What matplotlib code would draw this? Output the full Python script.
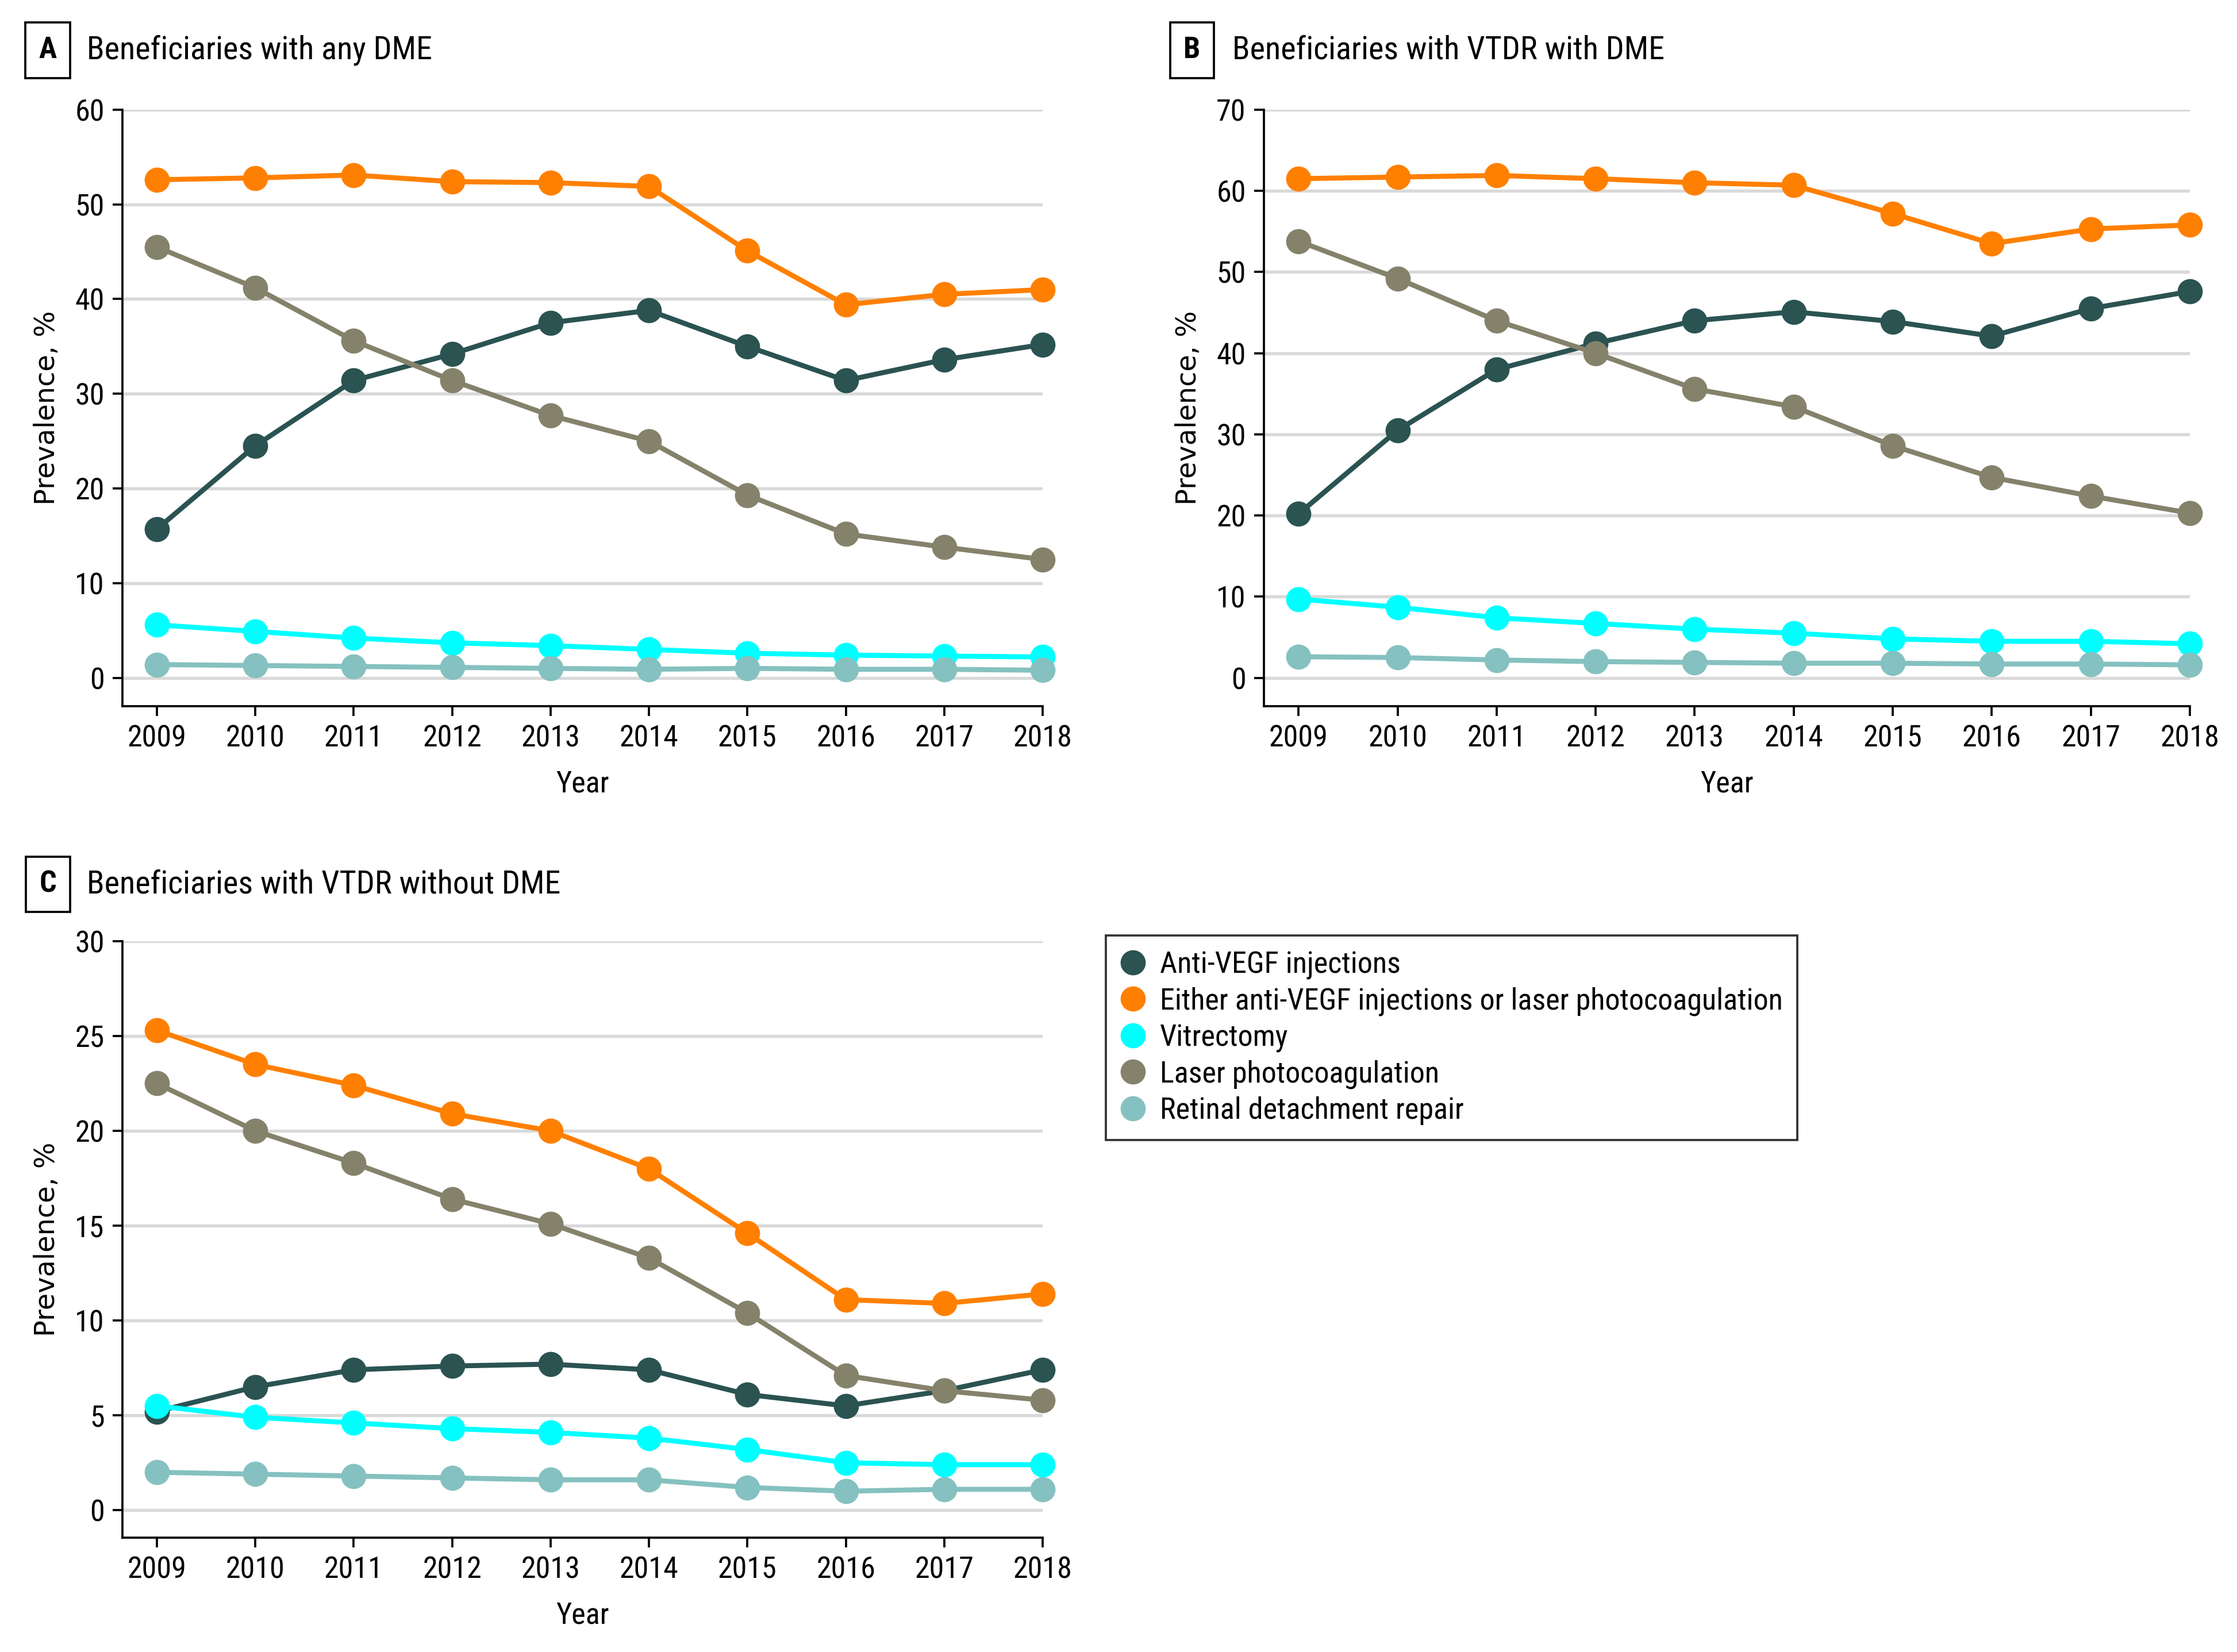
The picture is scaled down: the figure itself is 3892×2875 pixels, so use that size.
import matplotlib
matplotlib.use("Agg")
import matplotlib.pyplot as plt
from matplotlib import font_manager as fm
from matplotlib.lines import Line2D

available = {f.name for f in fm.fontManager.ttflist}
main_font = 'DejaVu Sans'
for name in ['Liberation Sans Narrow', 'Roboto Condensed', 'Open Sans Condensed',
             'Noto Sans Condensed', 'Lato', 'Roboto']:
    if name in available:
        main_font = name
        break
plt.rcParams['font.family'] = [main_font, 'DejaVu Sans']

years = [2009, 2010, 2011, 2012, 2013, 2014, 2015, 2016, 2017, 2018]

series_names = ["Anti-VEGF injections",
                "Either anti-VEGF injections or laser photocoagulation",
                "Vitrectomy",
                "Laser photocoagulation",
                "Retinal detachment repair"]
series_colors = ["#2a5352", "#ff8000", "#00ffff", "#85826b", "#85c1c0"]

# A: any DME
a_antivegf = [15.7, 24.5, 31.4, 34.2, 37.5, 38.8, 35.0, 31.4, 33.6, 35.2]
a_either = [52.6, 52.8, 53.1, 52.4, 52.3, 51.9, 45.1, 39.4, 40.5, 41.0]
a_vitrectomy = [5.6, 4.9, 4.2, 3.7, 3.4, 3.0, 2.6, 2.4, 2.3, 2.2]
a_laser = [45.5, 41.2, 35.6, 31.4, 27.7, 25.0, 19.3, 15.2, 13.8, 12.5]
a_retinal = [1.4, 1.3, 1.2, 1.1, 1.0, 0.9, 1.0, 0.9, 0.9, 0.8]

# B: VTDR with DME
b_antivegf = [20.2, 30.5, 38.0, 41.2, 44.0, 45.1, 43.9, 42.1, 45.5, 47.6]
b_either = [61.5, 61.7, 61.9, 61.5, 61.0, 60.7, 57.2, 53.5, 55.3, 55.8]
b_vitrectomy = [9.7, 8.7, 7.4, 6.7, 6.0, 5.5, 4.8, 4.5, 4.5, 4.2]
b_laser = [53.8, 49.2, 44.0, 40.0, 35.6, 33.4, 28.6, 24.7, 22.4, 20.3]
b_retinal = [2.6, 2.5, 2.2, 2.0, 1.9, 1.8, 1.8, 1.7, 1.7, 1.6]

# C: VTDR without DME
c_antivegf = [5.2, 6.5, 7.4, 7.6, 7.7, 7.4, 6.1, 5.5, 6.3, 7.4]
c_either = [25.3, 23.5, 22.4, 20.9, 20.0, 18.0, 14.6, 11.1, 10.9, 11.4]
c_vitrectomy = [5.5, 4.9, 4.6, 4.3, 4.1, 3.8, 3.2, 2.5, 2.4, 2.4]
c_laser = [22.5, 20.0, 18.3, 16.4, 15.1, 13.3, 10.4, 7.1, 6.3, 5.8]
c_retinal = [2.0, 1.9, 1.8, 1.7, 1.6, 1.6, 1.2, 1.0, 1.1, 1.1]

W, H = 3892, 2875
fig = plt.figure(figsize=(W / 300, H / 300), dpi=300)

FS = 12.5
MS = 10.5

def make_panel(rect, data, ymax, ystep, ybottom):
    ax = fig.add_axes(rect)
    for vals, col in zip(data, series_colors):
        ax.plot(years, vals, color=col, lw=2.1, marker='o', ms=MS,
                markeredgewidth=0, clip_on=False, zorder=3)
    ax.set_xlim(2008.65, 2018)
    ax.set_ylim(ybottom, ymax)
    ax.set_xticks(years)
    ax.set_yticks(range(0, ymax + 1, ystep))
    ax.grid(axis='y', color='#d9d9d9', lw=1.3, zorder=0)
    ax.set_axisbelow(True)
    for s in ['top', 'right']:
        ax.spines[s].set_visible(False)
    for s in ['left', 'bottom']:
        ax.spines[s].set_linewidth(0.9)
    ax.tick_params(labelsize=FS, width=0.9, length=4, pad=3.5)
    ax.set_xlabel("Year", fontsize=FS, labelpad=7)
    ax.set_ylabel("Prevalence, %", fontsize=11.5, family='DejaVu Sans', labelpad=6)
    return ax

make_panel([0.0547, 0.5725, 0.4114, 0.3611],
           [a_antivegf, a_either, a_vitrectomy, a_laser, a_retinal], 60, 10, -3.0)
make_panel([0.565, 0.5725, 0.4139, 0.3611],
           [b_antivegf, b_either, b_vitrectomy, b_laser, b_retinal], 70, 10, -3.5)
make_panel([0.0547, 0.0692, 0.4114, 0.3611],
           [c_antivegf, c_either, c_vitrectomy, c_laser, c_retinal], 30, 5, -1.45)

def panel_title(x_box, x_text, y, letter, title):
    fig.text(x_box, y, letter, fontsize=FS, fontweight='bold', ha='center', va='center',
             bbox=dict(boxstyle='square,pad=0.45', fc='white', ec='black', lw=0.9))
    fig.text(x_text, y, title, fontsize=13.5, ha='left', va='center')

panel_title(0.0214, 0.0388, 0.9697, "A", "Beneficiaries with any DME")
panel_title(0.5329, 0.5509, 0.9697, "B", "Beneficiaries with VTDR with DME")
panel_title(0.0214, 0.0388, 0.4647, "C", "Beneficiaries with VTDR without DME")

handles = [Line2D([], [], ls='none', marker='o', ms=MS, markeredgewidth=0, color=c)
           for c in series_colors]
leg = fig.legend(handles, series_names, loc='upper left', bbox_to_anchor=(0.4943, 0.4337),
                 fontsize=FS, frameon=True, fancybox=False, edgecolor='black',
                 handletextpad=0.5, labelspacing=0.25, borderpad=0.5, handlelength=0.8,
                 borderaxespad=0)
leg.get_frame().set_linewidth(0.9)

fig.savefig("out.png", dpi=300, facecolor='white')
